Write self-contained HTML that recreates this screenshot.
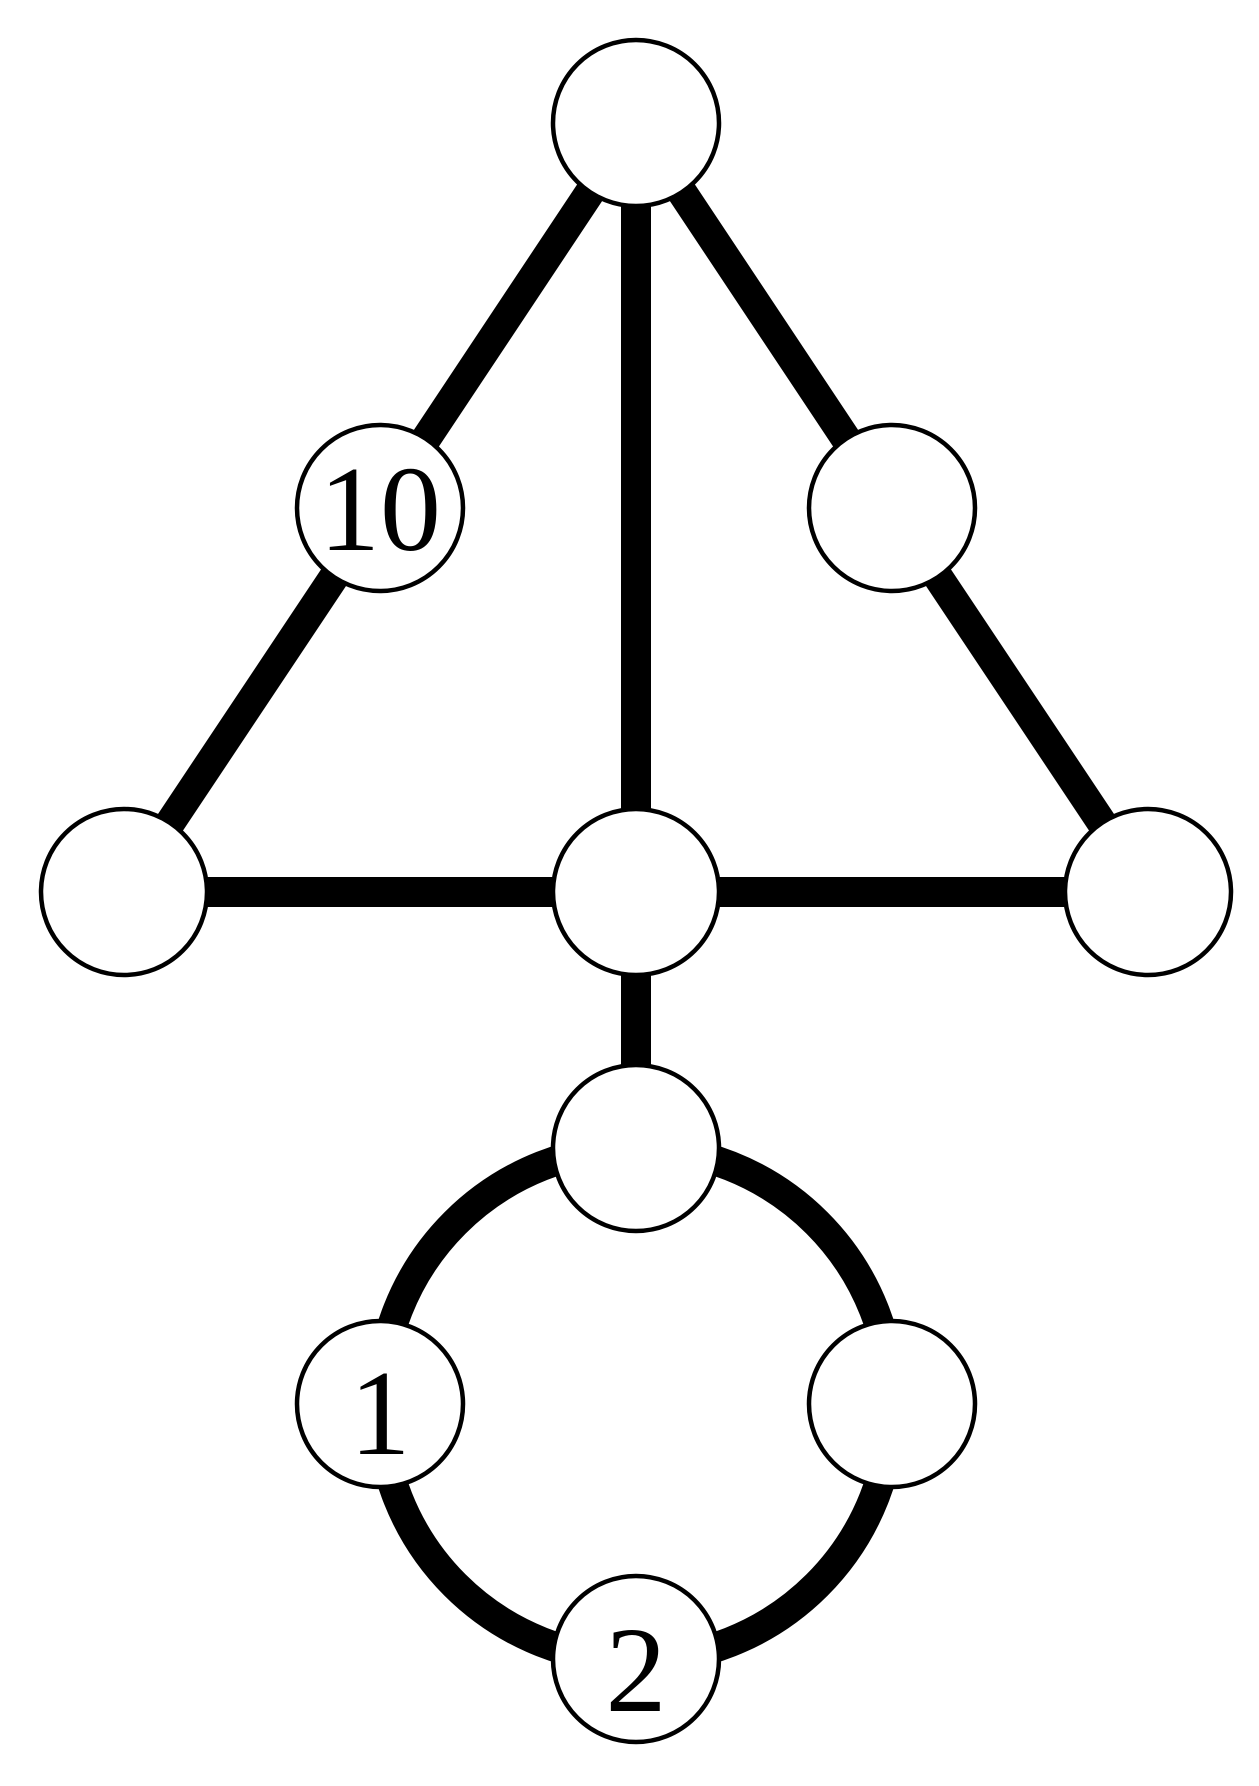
<!DOCTYPE html>
<html><head><style>html,body{margin:0;padding:0;background:#fff}</style></head><body>
<svg width="1259" height="1781" viewBox="0 0 1259 1781" xmlns="http://www.w3.org/2000/svg">
<g stroke="#000" stroke-width="30" fill="none">
<line x1="636" y1="123" x2="380" y2="508"/>
<line x1="380" y1="508" x2="124" y2="892"/>
<line x1="636" y1="123" x2="892" y2="508"/>
<line x1="892" y1="508" x2="1148" y2="892"/>
<line x1="636" y1="123" x2="636" y2="892"/>
<line x1="124" y1="892" x2="1148" y2="892"/>
<line x1="636" y1="892" x2="636" y2="1148"/>
<circle cx="636" cy="1404" r="256"/>
</g>
<g fill="#fff" stroke="#000" stroke-width="4.5">
<circle cx="636" cy="123" r="83"/>
<circle cx="380" cy="508" r="83"/>
<circle cx="892" cy="508" r="83"/>
<circle cx="124" cy="892" r="83"/>
<circle cx="636" cy="892" r="83"/>
<circle cx="1148" cy="892" r="83"/>
<circle cx="636" cy="1148" r="83"/>
<circle cx="380" cy="1404" r="83"/>
<circle cx="892" cy="1404" r="83"/>
<circle cx="636" cy="1659" r="83"/>
</g>
<g font-family="Liberation Serif, serif" font-size="122" text-anchor="middle" fill="#000">
<text x="380" y="550">10</text>
<text x="380" y="1454">1</text>
<text x="636" y="1711">2</text>
</g>
</svg>
</body></html>
